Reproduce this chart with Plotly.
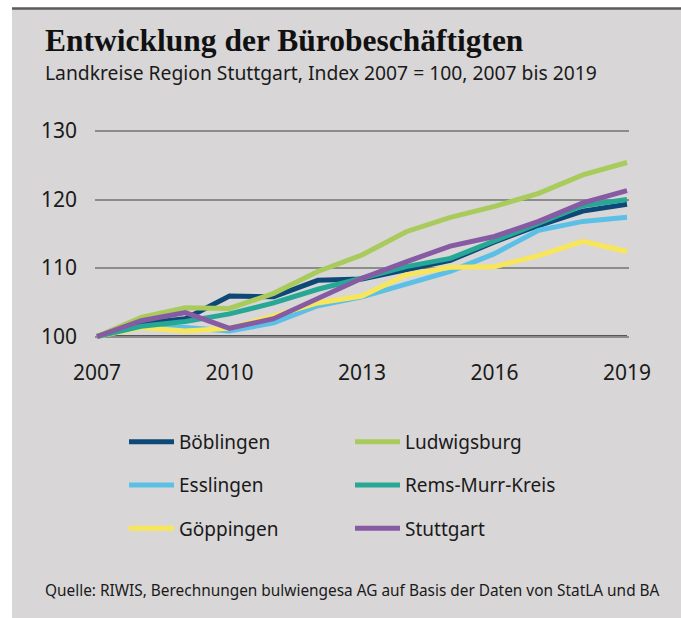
import plotly.graph_objects as go

years = list(range(2007, 2020))
boeblingen = [100, 101.9, 102.6, 105.9, 105.8, 108.2, 108.4, 109.7, 111.1, 113.8, 116.2, 118.3, 119.3]
esslingen = [100, 101.4, 101.3, 100.8, 102.0, 104.5, 105.8, 107.6, 109.5, 112.1, 115.5, 116.8, 117.4]
goeppingen = [100, 101.3, 100.8, 101.2, 103.0, 104.9, 105.9, 109.0, 110.1, 110.2, 111.8, 113.9, 112.4]
ludwigsburg = [100, 102.8, 104.2, 104.1, 106.3, 109.5, 111.9, 115.3, 117.4, 119.0, 120.9, 123.6, 125.4]
rems_murr = [100, 101.5, 102.2, 103.3, 104.9, 106.9, 108.5, 110.2, 111.4, 114.0, 116.6, 119.1, 120.0]
stuttgart = [100, 102.3, 103.5, 101.2, 102.6, 105.5, 108.5, 110.9, 113.2, 114.6, 116.8, 119.5, 121.3]

x_ticks = [2007, 2010, 2013, 2016, 2019]
y_ticks = [100, 110, 120, 130]

W, H = 681, 618
L, R, T, B = 95, 52, 126, 278
PW, PH = W - L - R, H - T - B
BG = "#d8d6d7"
TXT = "#1a1a1a"
FONT = "Noto Sans"


def px(x):
    return (x - L) / PW


def py(y):
    return (H - B - y) / PH


series = [
    ("Böblingen", boeblingen, "#0d4877", "legend", 1),
    ("Esslingen", esslingen, "#5cbfe6", "legend", 2),
    ("Göppingen", goeppingen, "#f8e65a", "legend", 3),
    ("Rems-Murr-Kreis", rems_murr, "#27a896", "legend2", 2),
    ("Ludwigsburg", ludwigsburg, "#a9cb5b", "legend2", 1),
    ("Stuttgart", stuttgart, "#875ba3", "legend2", 3),
]

fig = go.Figure()
for name, vals, color, leg, rank in series:
    fig.add_trace(go.Scatter(
        x=years, y=vals, name=name, mode="lines",
        line=dict(color=color, width=5),
        legend=leg, legendrank=rank, legendgroup=name,
    ))

# baseline at index 100
fig.add_shape(type="line", xref="x", yref="y", x0=years[0], x1=years[-1],
              y0=y_ticks[0], y1=y_ticks[0], line=dict(color="#2b2b2b", width=2.5), layer="below")

# page decoration: white strips on left/top, dark top rule
fig.add_shape(type="rect", xref="paper", yref="paper", x0=px(-5), x1=px(12), y0=py(H + 5), y1=py(-5),
              fillcolor="white", line_width=0, layer="below")
fig.add_shape(type="rect", xref="paper", yref="paper", x0=px(-5), x1=px(W + 5), y0=py(8), y1=py(-5),
              fillcolor="white", line_width=0, layer="below")
fig.add_shape(type="line", xref="paper", yref="paper", x0=px(12), x1=px(W + 5), y0=py(8.5), y1=py(8.5),
              line=dict(color="#5a5a5a", width=2.5), layer="below")

fig.add_annotation(text="<b>Entwicklung der Bürobeschäftigten</b>", xref="paper", yref="paper",
                   x=px(43), y=py(40), xanchor="left", yanchor="middle", showarrow=False,
                   font=dict(family="Liberation Serif", size=31.5, color="#111111"))
fig.add_annotation(text="Landkreise Region Stuttgart, Index 2007 = 100, 2007 bis 2019", xref="paper", yref="paper",
                   x=px(43), y=py(72), xanchor="left", yanchor="middle", showarrow=False,
                   font=dict(family=FONT, size=19.3, color=TXT))
fig.add_annotation(text="Quelle: RIWIS, Berechnungen bulwiengesa AG auf Basis der Daten von StatLA und BA",
                   xref="paper", yref="paper", x=px(43), y=py(590), xanchor="left", yanchor="middle",
                   showarrow=False, font=dict(family=FONT, size=15.4, color=TXT))

leg_common = dict(orientation="v", yanchor="top", xanchor="left", bgcolor="rgba(0,0,0,0)",
                  font=dict(family=FONT, size=19, color=TXT), traceorder="grouped",
                  tracegroupgap=15.5, itemwidth=45)
fig.update_layout(
    legend=dict(x=px(124), y=py(423), **leg_common),
    legend2=dict(x=px(350), y=py(423), **leg_common),
)

fig.update_xaxes(range=[2007 - 2 / 44.17, 2019 + 2 / 44.17], tickvals=x_ticks, ticktext=[str(v) for v in x_ticks],
                 showgrid=False, zeroline=False, showline=False, ticks="",
                 tickfont=dict(family=FONT, size=21, color=TXT), ticklabelstandoff=18)
fig.update_yaxes(range=[99.49, 130.73], tickvals=y_ticks, ticktext=[str(v) for v in y_ticks],
                 showgrid=True, gridcolor="#8c8c8c", gridwidth=1.5, zeroline=False, showline=False, ticks="",
                 tickfont=dict(family=FONT, size=21, color=TXT), ticklabelstandoff=17)

fig.update_layout(
    width=W, height=H, autosize=False,
    margin=dict(l=L, r=R, t=T, b=B, pad=0),
    paper_bgcolor=BG, plot_bgcolor="rgba(0,0,0,0)",
    font=dict(family=FONT, color=TXT),
    showlegend=True,
)

fig.write_html("out.html", config={"displayModeBar": False},
               post_script="document.body.style.margin='0';document.body.style.overflow='hidden';")
